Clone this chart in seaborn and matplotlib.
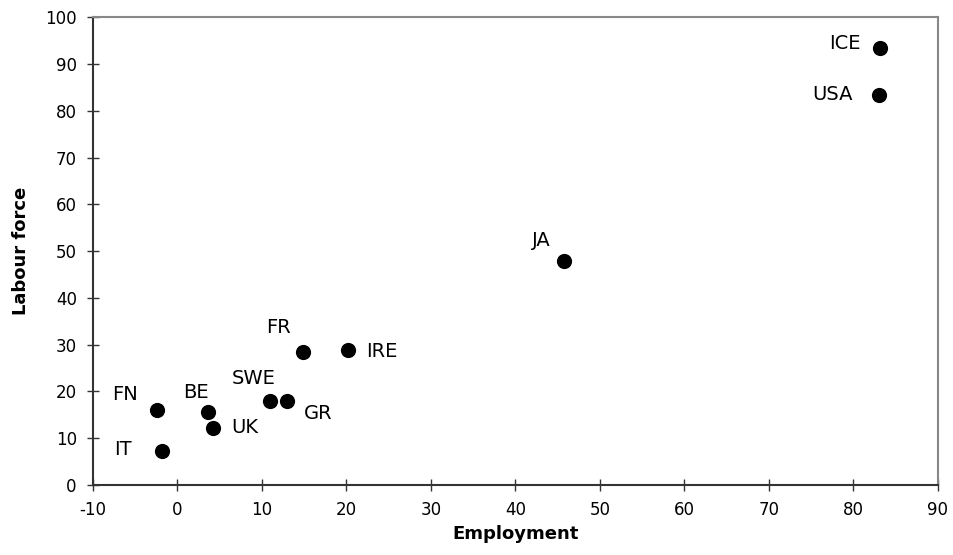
import pandas as pd
import matplotlib.pyplot as plt
import seaborn as sns

# data
countries = ["ICE", "USA", "JA", "FR", "IRE", "SWE", "GR", "FN", "BE", "UK", "IT"]
employment = [83.2, 83.0, 45.8, 14.9, 20.2, 11.0, 13.0, -2.4, 3.6, 4.2, -1.8]
labour_force = [93.5, 83.4, 47.8, 28.4, 28.9, 18.0, 18.0, 16.0, 15.6, 12.1, 7.3]

# label offsets in points (dx, dy) and alignment
offsets = {
    "ICE": (-14, 3, "right"), "USA": (-19, 0, "right"), "JA": (-10, 15, "right"),
    "FR": (-9, 18, "right"), "IRE": (13, -1, "left"), "SWE": (4, 16, "right"),
    "GR": (12, -9, "left"), "FN": (-14, 11, "right"), "BE": (1, 14, "right"),
    "UK": (13, 1, "left"), "IT": (-22, 1, "right"),
}

df = pd.DataFrame({"country": countries, "Employment": employment, "Labour force": labour_force})

sns.set_style("white")
plt.rcParams["font.family"] = ["DejaVu Sans"]
plt.rcParams["axes.unicode_minus"] = False
plt.rcParams["text.color"] = "black"
plt.rcParams["axes.labelcolor"] = "black"

fig = plt.figure(figsize=(9.54, 5.55), dpi=100)
ax = fig.add_axes([0.0972, 0.126, 0.886, 0.843])

sns.scatterplot(data=df, x="Employment", y="Labour force", color="black",
                s=120, edgecolor="black", linewidth=0, ax=ax, zorder=3)

for c, x, y in zip(countries, employment, labour_force):
    dx, dy, ha = offsets[c]
    ax.annotate(c, (x, y), xytext=(dx, dy), textcoords="offset points",
                ha=ha, va="center", fontsize=14, color="black")

ax.set_xlim(-10, 90)
ax.set_ylim(0, 100)
ax.set_xticks(range(-10, 91, 10))
ax.set_yticks(range(0, 101, 10))
ax.tick_params(bottom=True, left=True, direction="inout", length=9, width=1,
               labelsize=12, colors="#333333", labelcolor="black")
ax.tick_params(axis="x", pad=7)
ax.tick_params(axis="y", pad=7)
ax.set_xlabel("Employment", fontsize=13, fontweight="bold", labelpad=4)
ax.set_ylabel("Labour force", fontsize=13, fontweight="bold", labelpad=11)

for side in ["left", "bottom"]:
    ax.spines[side].set_color("#333333")
    ax.spines[side].set_linewidth(1.5)
for side in ["top", "right"]:
    ax.spines[side].set_color("#888888")
    ax.spines[side].set_linewidth(1.5)

fig.savefig("out.png", dpi=100)
